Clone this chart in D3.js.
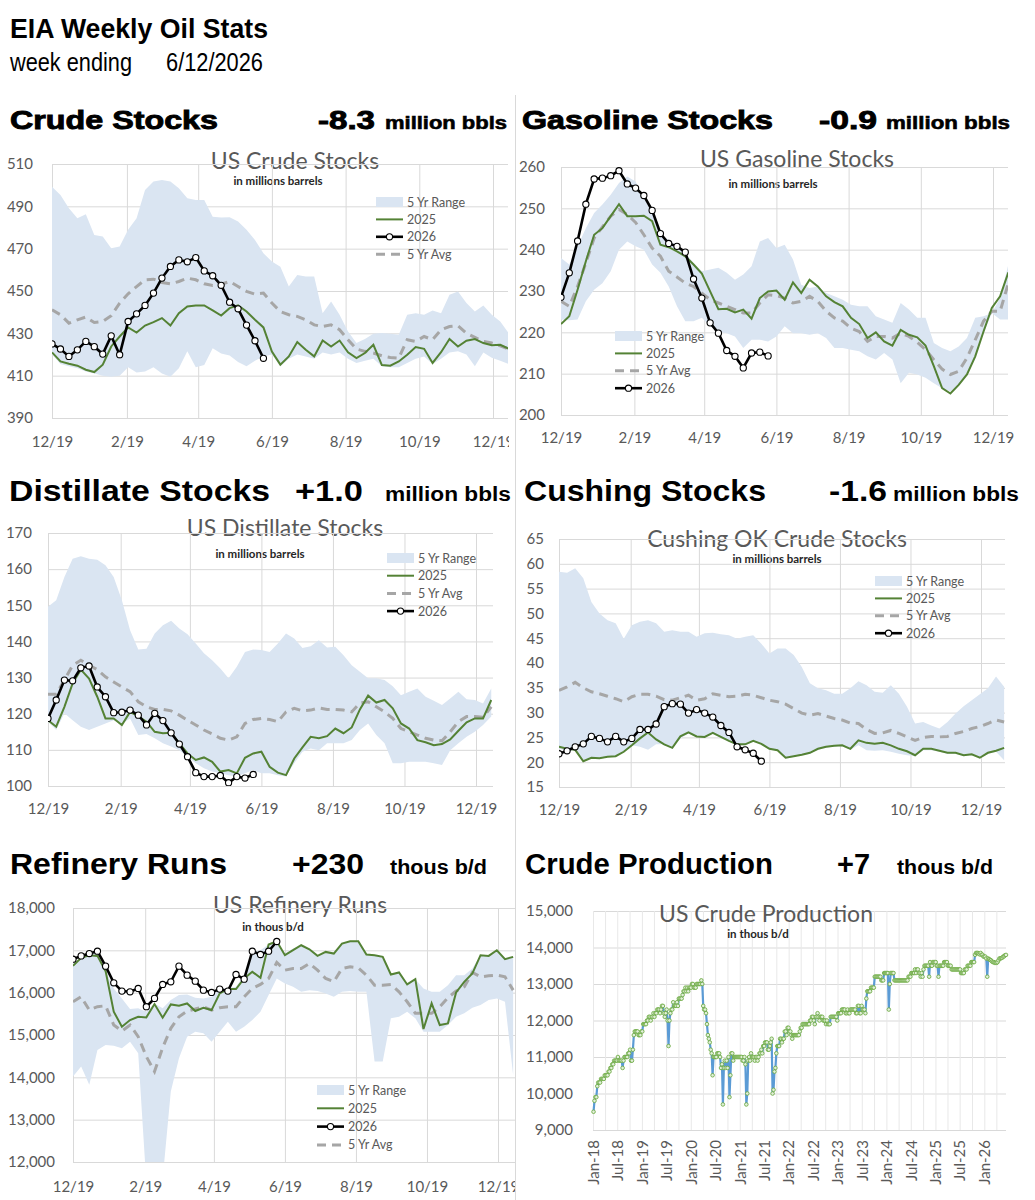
<!DOCTYPE html>
<html>
<head>
<meta charset="utf-8">
<script src="https://cdn.jsdelivr.net/npm/d3@7"></script>
<style>
  body { margin: 0; background: #fff; }
  text { font-family: Lato, 'Open Sans', sans-serif; }
</style>
</head>
<body>
<svg id="chart" width="1035" height="1200"></svg>
<script>
// ---- data (weekly, week ending Fridays starting 12/19) ----
const tickDates = [
    new Date(2025, 11, 19), new Date(2026, 1, 19), new Date(2026, 3, 19),
    new Date(2026, 5, 19), new Date(2026, 7, 19), new Date(2026, 9, 19),
    new Date(2026, 11, 19),
]

// Crude stocks, million bbls
const crudeMax = [499.3,495.4,489.1,484.4,486.3,476.5,475.7,470.2,471.0,478.9,484.4,497.7,501.7,502.5,501.7,498.5,493.8,493.0,493.0,485.1,484.7,484.8,482.8,478.9,474.1,467.8,463.9,461.5,452.1,457.6,456.8,456.8,439.5,445.0,438.8,430.9,425.4,427.3,429.8,430.1,429.8,429.3,438.8,439.5,438.8,440.8,439.5,448.2,449.8,444.3,440.3,443.2,438.8,435.6,430.1]
const crudeMin = [420,415.5,414.5,413.5,412,411,410,409.5,410,414,411.5,412,414,411,409.5,413.5,421.5,414,415,423,420.5,419.5,416.5,414.5,417,419,420,414.5,418,420,419,418,421,420,421,418,416,417,418,414.5,414,414,416,418,419,415.5,418,421,421.5,420,414.5,421,418.5,417,415.5]
const crude2025 = [421,416.7,415.6,414.7,412.8,411.7,415.2,423.8,428.5,432.8,430.4,433.7,435.3,437.2,433.7,439.5,442.7,443.2,443.2,440.8,438.4,441.9,443.2,440.3,436.4,432.8,421.4,415.2,419.1,425.9,422.2,419.1,426.6,423.8,426.6,421.0,418.3,420.7,424.6,415.0,414.7,416.7,419.9,423.5,422.7,416.0,421.1,427.3,423.8,426.5,427.3,425.4,424.4,424.6,422.7]
const crudeAvg = [441.1,438.8,434.8,436.4,437.7,435.1,435.6,438.3,444.3,448.7,452.1,455.3,455.6,454.0,453.4,454.5,456.1,455.3,453.4,452.6,453.2,454.5,452.1,449.8,448.5,449.0,444.3,440.3,438.8,438.0,436.4,434.0,433.2,434.0,431.7,427.0,422.6,421.5,420.7,419.4,418.6,418.3,427.0,426.2,428.5,427.0,431.7,433.2,433.6,430.1,428.1,426.2,425.4,424.1,422.6]
const crude2026 = [425,422.6,419.1,422.2,426.2,423.7,420.2,428.8,419.9,435.6,439.2,443.2,449.0,456.1,461.6,464.7,463.8,465.8,459.5,457.2,452.7,444.7,441.6,433.9,426.5,418.2]

// Gasoline stocks, million bbls
const gasMax = [238.0,236.4,240.8,245.2,248.9,250.9,253.3,256.1,257.7,256.5,252.5,249.3,243.6,242.4,240.8,239.2,236.8,234.8,235.2,235.6,234.4,232.7,234.0,236.0,242.0,242.8,240.4,241.2,237.6,231.5,230.7,231.1,229.5,228.7,227.9,226.7,226.3,226.3,223.9,223.1,222.3,227.1,225.5,223.5,223.5,217.4,216.2,215.4,216.6,218.6,223.5,223.9,224.7,228.3,236.4]
const gasMin = [223.1,222.9,223.1,227.5,230.3,231.9,234.8,240.0,242.0,240.8,240.0,236.4,234.4,231.1,226.3,222.7,222.7,223.5,221.5,220.2,219.8,219.0,216.2,218.2,218.2,217.8,219.0,221.5,219.8,219.8,219.4,219.8,218.6,216.2,216.2,215.8,215.4,214.2,213.4,215.0,213.4,207.7,210.2,209.8,209.0,207.7,206.5,205.7,207.3,210.2,214.2,219.8,224.7,223.1,223.1]
const gas2025 = [222.0,223.9,230.3,237.2,243.6,245.2,248.1,251.0,248.1,248.1,248.2,246.9,241.2,240.6,239.6,238.4,236.4,234.2,229.9,225.6,225.7,224.8,225.5,223.3,228.3,229.9,230.1,227.9,232.1,229.5,232.7,231.1,228.7,227.3,226.3,223.5,222.0,218.6,220.0,217.8,216.8,220.6,219.4,218.8,216.8,211.8,206.5,205.2,207.3,209.8,214.2,220.2,225.9,228.7,234.5]
const gasAvg = [227.5,226.3,231.1,236.8,242.8,245.5,248.1,249.7,248.5,246.6,243.6,240.4,238.4,234.8,233.4,231.9,231.1,229.5,227.9,227.1,226.3,225.5,224.7,224.7,227.1,229.1,228.9,228.3,227.1,227.5,228.7,227.5,225.1,223.5,222.7,221.0,220.2,217.8,219.0,219.0,218.6,219.8,219.0,217.6,215.8,213.4,211.1,209.8,210.6,213.8,218.2,222.7,225.1,225.1,231.9]
const gas2026 = [228.5,234.4,242.1,251.0,257.1,257.3,257.9,259.1,255.9,254.9,253.1,249.5,243.9,241.5,240.8,239.4,232.9,228.3,222.3,219.8,215.6,214.2,211.4,215.0,215.2,214.3]

// Distillate stocks, million bbls
const distMax = [149.6,151.4,157.8,162.9,163.6,162.9,162.6,161.1,157.8,151.4,143.1,137.8,138.0,142.2,144.5,145.7,143.6,142.0,139.4,136.7,134.8,132.5,129.8,133.0,137.1,137.8,137.6,137.1,139.4,142.2,140.8,138.2,138.7,140.3,138.3,138.5,136.2,133.4,131.6,129.8,129.8,129.3,127.6,125.1,126.1,127.0,124.7,123.6,122.4,124.2,126.1,124.0,123.8,122.8,127.0]
const distMin = [117.8,115.5,120.1,118.2,116.4,115.5,116.4,117.3,118.2,117.3,118.7,114.1,114.4,113.2,111.8,110.9,109.9,108.1,106.3,104.9,104.0,103.5,103.0,102.6,103.5,104.4,103.5,103.5,103.0,102.6,106.3,109.5,110.4,109.9,111.8,111.8,111.8,112.7,115.5,117.3,114.1,111.8,106.3,106.3,106.7,106.7,106.7,106.3,105.8,109.9,111.8,113.6,115.0,116.9,119.2]
const dist2025 = [118.2,116.4,121.9,128.4,132.2,129.7,124.7,118.7,118.7,116.9,120.5,119.3,117.8,115.0,114.6,114.7,111.8,109.0,107.2,107.9,106.7,104.0,104.4,103.5,107.8,109.0,109.5,105.3,103.7,103.0,107.6,110.7,113.6,113.2,113.8,115.9,114.6,116.2,121.2,125.0,123.1,123.8,121.5,117.3,115.9,112.7,112.1,111.3,111.6,112.9,115.3,117.6,118.7,118.7,123.8]
const distAvg = [125.4,125.4,129.3,133.4,134.8,133.4,132.2,130.2,128.8,127.4,126.1,123.3,121.9,121.2,121.2,120.8,119.6,118.2,116.9,115.5,114.4,113.2,112.7,113.6,117.3,118.4,118.7,118.4,117.8,120.5,121.5,120.8,121.0,121.6,121.2,121.2,121.0,120.5,123.0,123.3,121.9,120.5,118.7,115.9,115.0,114.1,113.2,112.7,112.5,115.0,117.8,119.2,119.2,119.0,121.9]
const dist2026 = [118.7,123.8,129.3,129.1,132.7,133.2,127.4,124.7,120.3,120.4,121.0,119.6,116.9,120.1,118.1,114.7,111.6,108.1,103.7,102.6,102.6,102.9,100.9,102.6,102.2,103.2]

// Cushing OK crude stocks, million bbls
const cushMax = [58.4,58.2,59.1,57.1,52.3,50.0,48.6,48.0,44.9,47.6,48.3,48.6,48.0,46.3,46.6,46.3,46.3,45.3,46.0,46.1,45.8,45.6,44.9,45.3,45.6,43.9,41.9,42.9,42.9,41.6,39.2,35.9,34.9,34.5,33.8,33.8,34.9,36.3,35.5,34.2,34.0,35.5,33.8,31.2,27.8,28.1,27.4,26.8,28.1,29.8,31.3,32.5,33.7,34.9,37.3,35.2]
const cushMin = [22.7,22.3,22.4,20.2,20.9,20.8,21.1,21.2,22.1,23.4,23.1,22.5,23.6,23.6,22.9,24.8,25.8,25.1,25.0,25.8,25.0,24.1,23.4,23.4,24.1,23.6,22.5,22.3,20.7,21.1,21.4,21.7,22.5,22.9,23.1,23.2,22.5,23.4,22.4,22.3,22.4,22.1,21.7,21.4,21.2,22.4,22.4,22.1,21.7,21.7,21.2,21.4,20.9,21.7,22.1,20.4]
const cush2025 = [23.1,22.7,22.5,20.2,20.9,20.8,21.1,21.2,22.1,23.4,24.8,26.0,24.6,23.6,22.9,25.2,26.0,25.2,25.1,25.9,25.1,24.3,23.6,23.6,24.3,23.7,22.7,22.4,20.9,21.2,21.5,21.9,22.7,23.1,23.3,23.4,22.7,24.4,23.9,23.7,23.9,23.4,22.7,22.2,21.4,22.7,22.7,22.3,21.9,21.9,21.4,21.6,20.9,21.9,22.3,22.9]
const cushAvg = [34.5,35.2,36.1,35.0,34.2,33.8,33.3,32.8,32.2,33.2,33.7,33.7,33.3,32.6,32.5,33.0,33.5,32.5,32.8,33.8,33.5,33.2,33.3,33.7,33.5,33.0,32.5,32.2,31.7,30.8,29.9,29.5,29.8,29.3,28.8,28.5,27.9,27.8,26.6,25.8,25.9,26.4,25.8,25.1,24.4,25.0,25.2,25.1,25.2,25.8,26.2,26.8,27.2,27.8,28.5,28.1]
const cush2026 = [21.7,22.3,23.1,23.7,25.2,24.8,24.1,25.2,24.1,24.8,26.6,26.6,27.7,31.2,31.8,31.7,29.9,30.6,29.9,29.1,27.4,26.0,23.1,22.5,21.8,20.2]

// Refinery runs, thous b/d
const refMax = [16689,16846,16924,16924,16532,16100,15864,15613,15629,15550,15746,15629,15825,15943,15958,15880,15864,15903,16100,16100,16139,16414,16963,17003,17136,17160,16924,17042,17120,17042,16885,16963,16924,17160,17215,17215,16901,16885,16846,16429,16477,16194,16319,16100,16021,16021,16178,16414,16414,16571,16885,16869,17003,16791,16846]
const refMin = [14019,14254,13822,14647,14765,14749,14686,14843,14568,11500,11000,11600,13665,14450,14961,15079,15040,14843,15079,15314,15079,15197,15354,15550,15943,16335,16217,16139,16021,16060,16037,15982,15903,16021,16037,16021,16021,14372,14372,15393,15432,15550,15393,15079,15079,15079,15236,15432,15511,15644,15707,15825,15864,15785,14058]
const ref2025 = [16634,16822,16885,16869,16508,15550,15197,15354,15432,15416,15730,15409,15723,15691,15746,15566,15644,15589,15982,16084,16084,16335,16492,16351,17136,17215,16885,17003,17120,17026,16869,16963,16924,17160,17215,17215,16901,16885,16846,16429,16477,16194,16319,15141,15746,15236,15275,16005,16257,16453,16885,16869,17003,16791,16846]
const refAvg = [15785,15903,15589,15668,15691,15236,15094,15236,14961,14490,14136,14702,15157,15432,15566,15613,15668,15589,15644,15668,15668,15903,16100,16194,16335,16712,16532,16571,16571,16689,16532,16335,16257,16571,16610,16586,16414,16178,16178,16194,16021,15785,15511,15511,15511,15668,15880,16037,16139,16477,16374,16398,16414,16374,16060]
const ref2026 = [16791,16869,16924,16979,16626,16233,16037,16021,16100,15668,15864,16194,16257,16626,16414,16272,16060,16005,16084,16037,16429,16319,16979,16901,16979,17209]

// US crude production, thous b/d, weekly from 1/5/2018
const prod2018 = [9500,9800,9900,9900, 10200,10300,10300,10300, 10400,10400,10400,10400,10500, 10500,10500,10500,10600, 10600,10700,10700,10800, 10800,10900,10900,10900,10900, 11000,10900,10900,10900, 10900,10700,10900,11000,11000, 11000,11000,11100,11100, 11200,10900,10900,11200, 11600,11700,11700,11700,11700, 11600,11600,11600,11700]
const prod2019 = [11700,11900,11900,11900, 11900,12000,12000,12100, 12100,12000,12100,12100,12200, 12100,12200,12200,12300, 12300,12300,12200,12300,12400, 12400,12200,12100,12200, 12300,12000,11300,12000, 12200,12300,12300,12500,12400, 12400,12400,12500,12400, 12600,12600,12600,12600, 12700,12800,12800,12900,12800, 12900,12800,12900,12900]
const prod2020 = [12900,13000,13000,12900,12900, 12900,13000,13000,13000, 13000,13000,13100,13000, 12400,12300,12300,12200, 11900,11600,11500,11400,11200, 11100,10500,11000,11000, 11000,11000,11100,11100,11100, 11000,10700,10800,9700, 10700,10900,10700,10900, 10700,11000,9900,10500,11100, 11100,10900,11000,11000, 11000,11000,11000,11000]
const prod2021 = [11000,11000,11000,10900,10900, 11000,10800,9700,10000, 10900,11000,10900,11100, 11000,11000,11000,10900,11000, 11000,10900,11000,11100, 11100,11200,11100,11300, 11300,11400,11400,11400,11200, 11200,11300,11400,11500, 10000,10100,10600,10700, 11100,11300,11300,11300,11500, 11500,11400,11500,11500, 11700,11700,11600,11800,11800]
const prod2022 = [11700,11700,11600,11500, 11600,11600,11600,11600, 11600,11600,11600,11700, 11800,11800,11900,11900,11900, 11900,11900,11900,11900, 11900,12000,12000,12100, 12100,12000,11900,12100,12100, 12200,12100,12000,12100, 12100,12100,12000,12000,12000, 11900,12000,11900,11900, 11900,12100,12100,12100, 12100,12100,12100,12100,12000]
const prod2023 = [12200,12200,12200,12200, 12300,12300,12300,12300, 12200,12200,12300,12200,12200, 12300,12300,12300,12300, 12300,12300,12200,12200, 12400,12400,12200,12200,12400, 12300,12300,12300,12200, 12600,12800,12800,12800, 12800,12900,12900,12900,12900, 13200,13200,13200,13200, 13200,13200,13200,13100, 13100,13100,13300,13300,13300]
const prod2024 = [13300,13300,12300,13000, 13300,13300,13300,13300, 13100,13100,13100,13100,13100, 13100,13100,13100,13100, 13100,13100,13100,13100,13100, 13100,13200,13200,13200, 13300,13300,13300,13300, 13400,13300,13400,13400,13300, 13300,13200,13300,13200, 13400,13500,13500,13500, 13500,13500,13200,13600,13500, 13500,13600,13600,13600]
const prod2025 = [13600,13500,13500,13200,13500, 13500,13500,13500,13500, 13600,13600,13600,13600, 13500,13500,13500,13500, 13400,13400,13400,13400,13400, 13400,13400,13400,13400, 13400,13300,13300,13300, 13300,13400,13400,13400,13500, 13500,13500,13500,13600, 13600,13600,13600,13800,13850, 13850,13850,13830,13810, 13850,13800,13800,13750]
const prod2026 = [13750,13750,13700,13200,13700, 13680,13660,13650,13620, 13600,13600,13580,13580, 13580,13600,13650,13700, 13700,13710,13720,13750,13760, 13790,13797]

const legendNames = { range: '5 Yr Range', y2025: '2025', y2026: '2026', avg: '5 Yr Avg' }

// ---- drawing ----
const svg = d3.select('#chart')
const defs = svg.append('defs')

const bandColor = '#dae5f2'
const greenColor = '#548235'
const avgColor = '#a6a6a6'
const gridColor = '#d9d9d9'
const tickColor = '#595959'

const heavy = "'Liberation Sans', Arial, sans-serif"
const narrow = "'Liberation Sans Narrow', 'Liberation Sans', sans-serif"

const label = (t, x, y, size, family, weight, len, stroke) => {
    const el = svg.append('text')
        .attr('x', x)
        .attr('y', y)
        .text(t)
        .style('font-family', family)
        .style('font-size', `${size}px`)
        .style('font-weight', weight)
        .attr('fill', '#000')
    if (len) el.attr('textLength', len).attr('lengthAdjust', 'spacingAndGlyphs')
    if (stroke) el.attr('stroke', '#000').attr('stroke-width', stroke)
    return el
}

label('EIA Weekly Oil Stats', 10, 38, 28, narrow, 700, 258)
label('week ending', 10, 71, 26, narrow, 400, 122)
label('6/12/2026', 166, 71, 26, narrow, 400, 97)

// row 1 headers
label('Crude Stocks', 10, 129, 26, heavy, 900, 208, 0.9)
label('-8.3', 318, 129, 26, heavy, 900, 57, 0.9)
label('million bbls', 385, 129, 19, heavy, 900, 122, 0.6)
label('Gasoline Stocks', 522, 129, 26, heavy, 900, 251, 0.9)
label('-0.9', 819, 129, 26, heavy, 900, 58, 0.9)
label('million bbls', 886, 129, 19, heavy, 900, 124, 0.6)
// row 2
label('Distillate Stocks', 9, 501, 29, narrow, 700, 261)
label('+1.0', 295, 501, 29, narrow, 700, 68)
label('million bbls', 385, 501, 20, narrow, 700, 126)
label('Cushing Stocks', 524, 501, 29, narrow, 700, 242)
label('-1.6', 829, 501, 29, narrow, 700, 58)
label('million bbls', 893, 501, 20, narrow, 700, 126)
// row 3
label('Refinery Runs', 10, 874, 29, narrow, 700, 217)
label('+230', 292, 874, 29, narrow, 700, 72)
label('thous b/d', 390, 874, 20, narrow, 700, 97)
label('Crude Production', 525, 874, 29, narrow, 700, 248)
label('+7', 837, 874, 29, narrow, 700, 33)
label('thous b/d', 897, 874, 20, narrow, 700, 96)

svg.append('line')
    .attr('x1', 515.5).attr('x2', 515.5)
    .attr('y1', 95).attr('y2', 1200)
    .attr('stroke', gridColor)

const styleAxis = (sel, lineColor = gridColor) => {
    sel.select('.domain').remove()
    sel.selectAll('.tick line').attr('stroke', lineColor).attr('stroke-width', 1)
    sel.selectAll('.tick text')
        .attr('fill', tickColor)
        .style('font-size', '15px')
        .style('font-family', 'Lato, sans-serif')
}

const chartTitle = (t, cx, y, sub, scx, sy) => {
    svg.append('text')
        .attr('x', cx).attr('y', y)
        .attr('text-anchor', 'middle')
        .attr('fill', tickColor)
        .style('font-size', '23px')
        .text(t)
    svg.append('text')
        .attr('x', scx).attr('y', sy)
        .attr('text-anchor', 'middle')
        .attr('fill', '#262626')
        .style('font-size', '11.5px')
        .style('font-weight', 700)
        .text(sub)
}

function weeklyPanel(p) {
    const x = d3.scaleTime()
        .domain([tickDates[0], tickDates[tickDates.length - 1]])
        .range([p.x0, p.x1])
    const y = d3.scaleLinear().domain(p.yDomain).range([p.bottom, p.top])
    const w = p.right - p.x0
    const weekDate = (i) => d3.timeDay.offset(tickDates[0], 7 * i)

    defs.append('clipPath').attr('id', `panel-${p.id}`)
        .append('rect')
        .attr('x', p.clip[0]).attr('y', p.top - 30)
        .attr('width', p.clip[1] - p.clip[0]).attr('height', p.bottom - p.top + 80)
    defs.append('clipPath').attr('id', `plot-${p.id}`)
        .append('rect')
        .attr('x', p.x0).attr('y', p.top - 10)
        .attr('width', w).attr('height', p.bottom - p.top + 10)

    const g = svg.append('g').attr('clip-path', `url(#panel-${p.id})`)

    const yAxis = g.append('g')
        .attr('transform', `translate(${p.x0},0)`)
        .call(d3.axisLeft(y)
            .tickValues(d3.range(p.yDomain[0], p.yDomain[1] + p.yStep / 2, p.yStep))
            .tickSize(-w)
            .tickPadding(p.yPad)
            .tickFormat(p.yFmt))
    styleAxis(yAxis)

    const xAxis = g.append('g')
        .attr('transform', `translate(0,${p.bottom})`)
        .call(d3.axisBottom(x)
            .tickValues(tickDates)
            .tickSize(-(p.bottom - p.top))
            .tickPadding(p.xPad)
            .tickFormat(d3.timeFormat('%-m/%-d')))
    styleAxis(xAxis)

    const plot = g.append('g').attr('clip-path', `url(#plot-${p.id})`)

    plot.append('path')
        .datum(p.max)
        .attr('fill', bandColor)
        .attr('d', d3.area()
            .x((d, i) => x(weekDate(i)))
            .y0((d, i) => y(p.min[i]))
            .y1((d) => y(d)))

    const line = d3.line().x((d, i) => x(weekDate(i))).y((d) => y(d))

    plot.append('path')
        .datum(p.avg)
        .attr('fill', 'none')
        .attr('stroke', avgColor)
        .attr('stroke-width', 3)
        .attr('stroke-dasharray', '9,6')
        .attr('d', line)

    plot.append('path')
        .datum(p.y2025)
        .attr('fill', 'none')
        .attr('stroke', greenColor)
        .attr('stroke-width', 2)
        .attr('d', line)

    plot.append('path')
        .datum(p.y2026)
        .attr('fill', 'none')
        .attr('stroke', '#000')
        .attr('stroke-width', 2.6)
        .attr('d', line)

    plot.selectAll('.dot')
        .data(p.y2026)
        .enter()
        .append('circle')
        .attr('class', 'dot')
        .attr('cx', (d, i) => x(weekDate(i)))
        .attr('cy', (d) => y(d))
        .attr('r', 3.1)
        .attr('fill', '#fff')
        .attr('stroke', '#000')
        .attr('stroke-width', 1.1)

    // legend
    const lg = svg.append('g')
    p.legend.forEach((key, i) => {
        const cy = p.legendY + i * p.legendStep
        const lx = p.legendX
        if (key === 'range') {
            lg.append('rect').attr('x', lx).attr('y', cy - 5)
                .attr('width', 27).attr('height', 10).attr('fill', bandColor)
        } else if (key === 'y2025') {
            lg.append('line').attr('x1', lx).attr('x2', lx + 27).attr('y1', cy).attr('y2', cy)
                .attr('stroke', greenColor).attr('stroke-width', 2)
        } else if (key === 'avg') {
            lg.append('line').attr('x1', lx).attr('x2', lx + 27).attr('y1', cy).attr('y2', cy)
                .attr('stroke', avgColor).attr('stroke-width', 3).attr('stroke-dasharray', '9,6')
        } else {
            lg.append('line').attr('x1', lx).attr('x2', lx + 27).attr('y1', cy).attr('y2', cy)
                .attr('stroke', '#000').attr('stroke-width', 2.6)
            lg.append('circle').attr('cx', lx + 13.5).attr('cy', cy).attr('r', 3.1)
                .attr('fill', '#fff').attr('stroke', '#000').attr('stroke-width', 1.1)
        }
        lg.append('text')
            .attr('x', lx + 31).attr('y', cy + 4.5)
            .attr('fill', tickColor)
            .style('font-size', '12.5px')
            .text(legendNames[key])
    })
}

const fmtInt = d3.format('d')
const fmtComma = d3.format(',')

chartTitle('US Crude Stocks', 295, 169, 'in millions barrels', 278, 185)
weeklyPanel({
    id: 'crude', x0: 52, x1: 493, right: 508, top: 164, bottom: 418,
    clip: [0, 509], yDomain: [390, 510], yStep: 20, yPad: 19, xPad: 18, yFmt: fmtInt,
    max: crudeMax, min: crudeMin, y2025: crude2025, avg: crudeAvg, y2026: crude2026,
    legend: ['range', 'y2025', 'y2026', 'avg'], legendX: 376, legendY: 202, legendStep: 17.4,
})

chartTitle('US Gasoline Stocks', 797, 167, 'in millions barrels', 773, 188)
weeklyPanel({
    id: 'gas', x0: 561, x1: 993, right: 1008, top: 167, bottom: 415,
    clip: [516, 1035], yDomain: [200, 260], yStep: 10, yPad: 16, xPad: 17, yFmt: fmtInt,
    max: gasMax, min: gasMin, y2025: gas2025, avg: gasAvg, y2026: gas2026,
    legend: ['range', 'y2025', 'avg', 'y2026'], legendX: 615, legendY: 336, legendStep: 17.4,
})

chartTitle('US Distillate Stocks', 285, 536, 'in millions barrels', 260, 558)
weeklyPanel({
    id: 'dist', x0: 48, x1: 476, right: 493, top: 533, bottom: 786,
    clip: [0, 515], yDomain: [100, 170], yStep: 10, yPad: 16, xPad: 17, yFmt: fmtInt,
    max: distMax, min: distMin, y2025: dist2025, avg: distAvg, y2026: dist2026,
    legend: ['range', 'y2025', 'avg', 'y2026'], legendX: 387, legendY: 558, legendStep: 17.7,
})

chartTitle('Cushing OK Crude Stocks', 777, 547, 'in millions barrels', 777, 563)
weeklyPanel({
    id: 'cush', x0: 559, x1: 981, right: 1005, top: 539, bottom: 787,
    clip: [516, 1035], yDomain: [15, 65], yStep: 5, yPad: 15, xPad: 17, yFmt: fmtInt,
    max: cushMax, min: cushMin, y2025: cush2025, avg: cushAvg, y2026: cush2026,
    legend: ['range', 'y2025', 'avg', 'y2026'], legendX: 875, legendY: 581, legendStep: 17.4,
})

chartTitle('US Refinery Runs', 300, 913, 'in thous b/d', 273, 931)
weeklyPanel({
    id: 'ref', x0: 73, x1: 498, right: 515, top: 908, bottom: 1162,
    clip: [0, 515], yDomain: [12000, 18000], yStep: 1000, yPad: 18, xPad: 19, yFmt: fmtComma,
    max: refMax, min: refMin, y2025: ref2025, avg: refAvg, y2026: ref2026,
    legend: ['range', 'y2025', 'y2026', 'avg'], legendX: 317, legendY: 1090, legendStep: 18.3,
})

// ---- crude production ----
const prodWeekly = [].concat(prod2018, prod2019, prod2020, prod2021, prod2022, prod2023, prod2024, prod2025, prod2026)
const prodStart = new Date(2018, 0, 5)
const prodEnd = d3.timeDay.offset(prodStart, 7 * (prodWeekly.length - 1))
const px = d3.scaleTime().domain([new Date(2018, 0, 1), prodEnd]).range([593, 1006])
const py = d3.scaleLinear().domain([9000, 15000]).range([1130, 911])

const pyAxis = svg.append('g')
    .attr('transform', 'translate(593,0)')
    .call(d3.axisLeft(py)
        .tickValues(d3.range(9000, 15001, 1000))
        .tickSize(-(1006 - 593))
        .tickPadding(20)
        .tickFormat(fmtComma))
styleAxis(pyAxis)

const quarters = d3.timeMonth.every(3).range(new Date(2018, 0, 1), prodEnd)
const monthFmt = d3.timeFormat('%b-%y')
const pxAxis = svg.append('g')
    .attr('transform', 'translate(0,1130)')
    .call(d3.axisBottom(px)
        .tickValues(quarters)
        .tickSize(-(1130 - 911))
        .tickFormat((d) => (d.getMonth() % 6 === 0 ? monthFmt(d) : '')))
styleAxis(pxAxis, '#e8e8e8')
pxAxis.selectAll('.tick text')
    .attr('transform', 'rotate(-90)')
    .attr('text-anchor', 'end')
    .attr('x', -10)
    .attr('y', 0)
    .attr('dy', '0.35em')

chartTitle('US Crude Production', 766, 922, 'in thous b/d', 758, 938)

const prodDate = (i) => d3.timeDay.offset(prodStart, 7 * i)
svg.append('path')
    .datum(prodWeekly)
    .attr('fill', 'none')
    .attr('stroke', '#5b9bd5')
    .attr('stroke-width', 2.2)
    .attr('stroke-linejoin', 'round')
    .attr('d', d3.line().x((d, i) => px(prodDate(i))).y((d) => py(d)))

svg.append('g')
    .selectAll('circle')
    .data(prodWeekly)
    .enter()
    .append('circle')
    .attr('cx', (d, i) => px(prodDate(i)))
    .attr('cy', (d) => py(d))
    .attr('r', 1.8)
    .attr('fill', '#e2efda')
    .attr('stroke', '#70ad47')
    .attr('stroke-width', 0.9)
</script>
</body>
</html>
